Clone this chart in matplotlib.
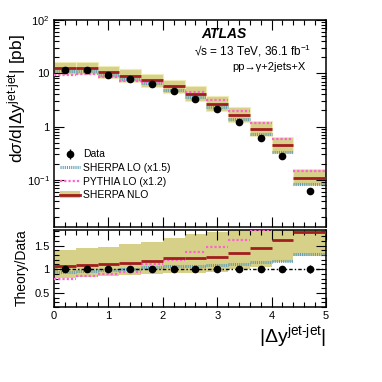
import numpy as np
import matplotlib
matplotlib.use("Agg")
import matplotlib.pyplot as plt
from matplotlib.lines import Line2D
from matplotlib.patches import Patch
from matplotlib.ticker import FixedLocator, FixedFormatter, MultipleLocator, NullFormatter

plt.rcParams['font.family'] = ['Liberation Sans', 'DejaVu Sans']
plt.rcParams['mathtext.fontset'] = 'custom'
plt.rcParams['mathtext.rm'] = 'Liberation Sans'
plt.rcParams['mathtext.it'] = 'Liberation Sans:italic'
plt.rcParams['mathtext.bf'] = 'Liberation Sans:bold'

# ---- data ----
bin_edges = [0.0, 0.4, 0.8, 1.2, 1.6, 2.0, 2.4, 2.8, 3.2, 3.6, 4.0, 4.4, 5.0]
data_xsec = [11.7, 11.5, 9.4, 7.7, 6.2, 4.6, 3.3, 2.1, 1.22, 0.62, 0.28, 0.062]
data_relerr = [0.05, 0.05, 0.05, 0.05, 0.05, 0.05, 0.05, 0.05, 0.05, 0.05, 0.06, 0.08]
ratio_nlo = [1.065, 1.085, 1.10, 1.14, 1.18, 1.23, 1.24, 1.26, 1.35, 1.44, 1.62, 1.78]
ratio_nlo_lo = [0.82, 0.84, 0.86, 0.88, 0.89, 0.91, 0.93, 0.95, 1.00, 1.05, 1.16, 1.27]
ratio_nlo_hi = [1.41, 1.44, 1.46, 1.54, 1.58, 1.66, 1.75, 1.79, 1.88, 2.05, 2.3, 2.55]
ratio_sherpa_lo = [0.94, 0.96, 0.98, 1.00, 1.04, 1.06, 1.07, 1.09, 1.12, 1.16, 1.18, 1.32]
ratio_pythia = [0.79, 0.85, 0.89, 0.95, 1.10, 1.20, 1.36, 1.47, 1.61, 1.84, 2.09, 2.31]

edges = np.array(bin_edges)
lo_e, hi_e = edges[:-1], edges[1:]
centers = 0.5 * (lo_e + hi_e)
widths = hi_e - lo_e
data = np.array(data_xsec)
derr = data * np.array(data_relerr)

C_BAND = '#d6d089'
C_BAND_EDGE = '#efecb8'
C_NLO = '#a01e1e'
C_SLO = '#5d9db8'
C_PY = '#ff63d2'

fig = plt.figure(figsize=(3.82, 3.82), dpi=100)
axL = 54 / 382
axW = 272 / 382
ax1 = fig.add_axes([axL, 1 - 227 / 382, axW, 207 / 382])
ax2 = fig.add_axes([axL, 1 - 307 / 382, axW, 77 / 382])

def draw(ax, scale, upper):
    band_lo = scale * np.array(ratio_nlo_lo)
    band_hi = scale * np.array(ratio_nlo_hi)
    ax.bar(centers, band_hi - band_lo, bottom=band_lo, width=widths, color=C_BAND,
           edgecolor=C_BAND_EDGE if upper else 'none', linewidth=0.8, zorder=1)
    ax.hlines(scale * np.array(ratio_sherpa_lo), lo_e, hi_e, colors=C_SLO, lw=2.2,
              linestyles=[(0, (0.35, 0.35))], zorder=2)
    ax.hlines(scale * np.array(ratio_pythia), lo_e, hi_e, colors=C_PY, lw=1.6,
              linestyles=[(0, (1.0, 0.9))], zorder=3)
    ax.hlines(scale * np.array(ratio_nlo), lo_e, hi_e, colors=C_NLO, lw=2.0, zorder=4)

# upper panel
draw(ax1, data, True)
ax1.errorbar(centers, data, yerr=derr, fmt='o', color='black', ms=4.5, elinewidth=1,
             capsize=0, zorder=5)
ax1.set_yscale('log')
ax1.set_xlim(0, 5)
ax1.set_ylim(0.013, 100)
ax1.yaxis.set_major_locator(FixedLocator([0.1, 1, 10, 100]))
ax1.yaxis.set_major_formatter(FixedFormatter([r'$10^{-1}$', '1', '10', r'$10^{2}$']))
minors = [m * 10.0 ** e for e in range(-2, 2) for m in range(2, 10)]
ax1.yaxis.set_minor_locator(FixedLocator(minors))
ax1.yaxis.set_minor_formatter(NullFormatter())
ax1.xaxis.set_major_locator(MultipleLocator(1))
ax1.xaxis.set_minor_locator(MultipleLocator(0.2))
ax1.set_xticklabels([])

# ratio panel
draw(ax2, 1.0, False)
ax2.axhline(1.0, color='black', lw=1.0, ls=(0, (2.5, 1.5, 1, 1.5)), zorder=4)
ax2.errorbar(centers, np.ones_like(data), yerr=np.array(data_relerr), fmt='o',
             color='black', ms=4.5, elinewidth=1, capsize=0, zorder=5)
ax2.set_xlim(0, 5)
ax2.set_ylim(0.2, 1.83)
ax2.yaxis.set_major_locator(FixedLocator([0.5, 1.0, 1.5]))
ax2.yaxis.set_major_formatter(FixedFormatter(['0.5', '1', '1.5']))
ax2.yaxis.set_minor_locator(MultipleLocator(0.1))
ax2.xaxis.set_major_locator(MultipleLocator(1))
ax2.xaxis.set_minor_locator(MultipleLocator(0.2))

for ax in (ax1, ax2):
    ax.tick_params(which='both', direction='in', top=True, right=True, labelsize=8, pad=3)
    ax.tick_params(which='major', length=7, width=0.8)
    ax.tick_params(which='minor', length=3.5, width=0.8)
    for s in ax.spines.values():
        s.set_linewidth(1.1)

# legend
h_data = ax1.errorbar([], [], yerr=[], fmt='o', color='black', ms=4.5, elinewidth=1)
h_slo = Line2D([], [], color=C_SLO, lw=2.2, ls=(0, (0.35, 0.35)))
h_py = Line2D([], [], color=C_PY, lw=1.6, ls=(0, (1.0, 0.9)))
h_nlo = (Patch(facecolor=C_BAND, edgecolor='none'), Line2D([], [], color=C_NLO, lw=2.0))
ax1.legend([h_data, h_slo, h_py, h_nlo],
           ['Data', 'SHERPA LO (x1.5)', 'PYTHIA LO (x1.2)', 'SHERPA NLO'],
           loc='upper left', bbox_to_anchor=(0.005, 0.395), frameon=False, fontsize=7.5,
           handlelength=2.0, handletextpad=0.3, labelspacing=0.35, borderaxespad=0)

# texts
fig.text(201 / 382, 1 - 34 / 382, 'ATLAS', fontsize=10, fontweight='bold', style='italic',
         ha='left', va='center')
fig.text(194 / 382, 1 - 51 / 382, '√s = 13 TeV, 36.1 fb$^{-1}$', fontsize=8.5,
         ha='left', va='center')
fig.text(232 / 382, 1 - 67 / 382, 'pp→γ+2jets+X', fontsize=8, ha='left', va='center')

fig.text(17 / 382, 1 - 99 / 382, r'd$\sigma$/d|$\Delta$y$^{\text{jet-jet}}$| [pb]',
         fontsize=12.5, rotation=90, ha='center', va='center')
fig.text(22 / 382, 1 - 268 / 382, 'Theory/Data', fontsize=10, rotation=90,
         ha='center', va='center')
fig.text(326 / 382, 1 - 336 / 382, r'|$\Delta$y$^{\text{jet-jet}}$|', fontsize=14,
         ha='right', va='center')

fig.savefig('out.png', dpi=100)
